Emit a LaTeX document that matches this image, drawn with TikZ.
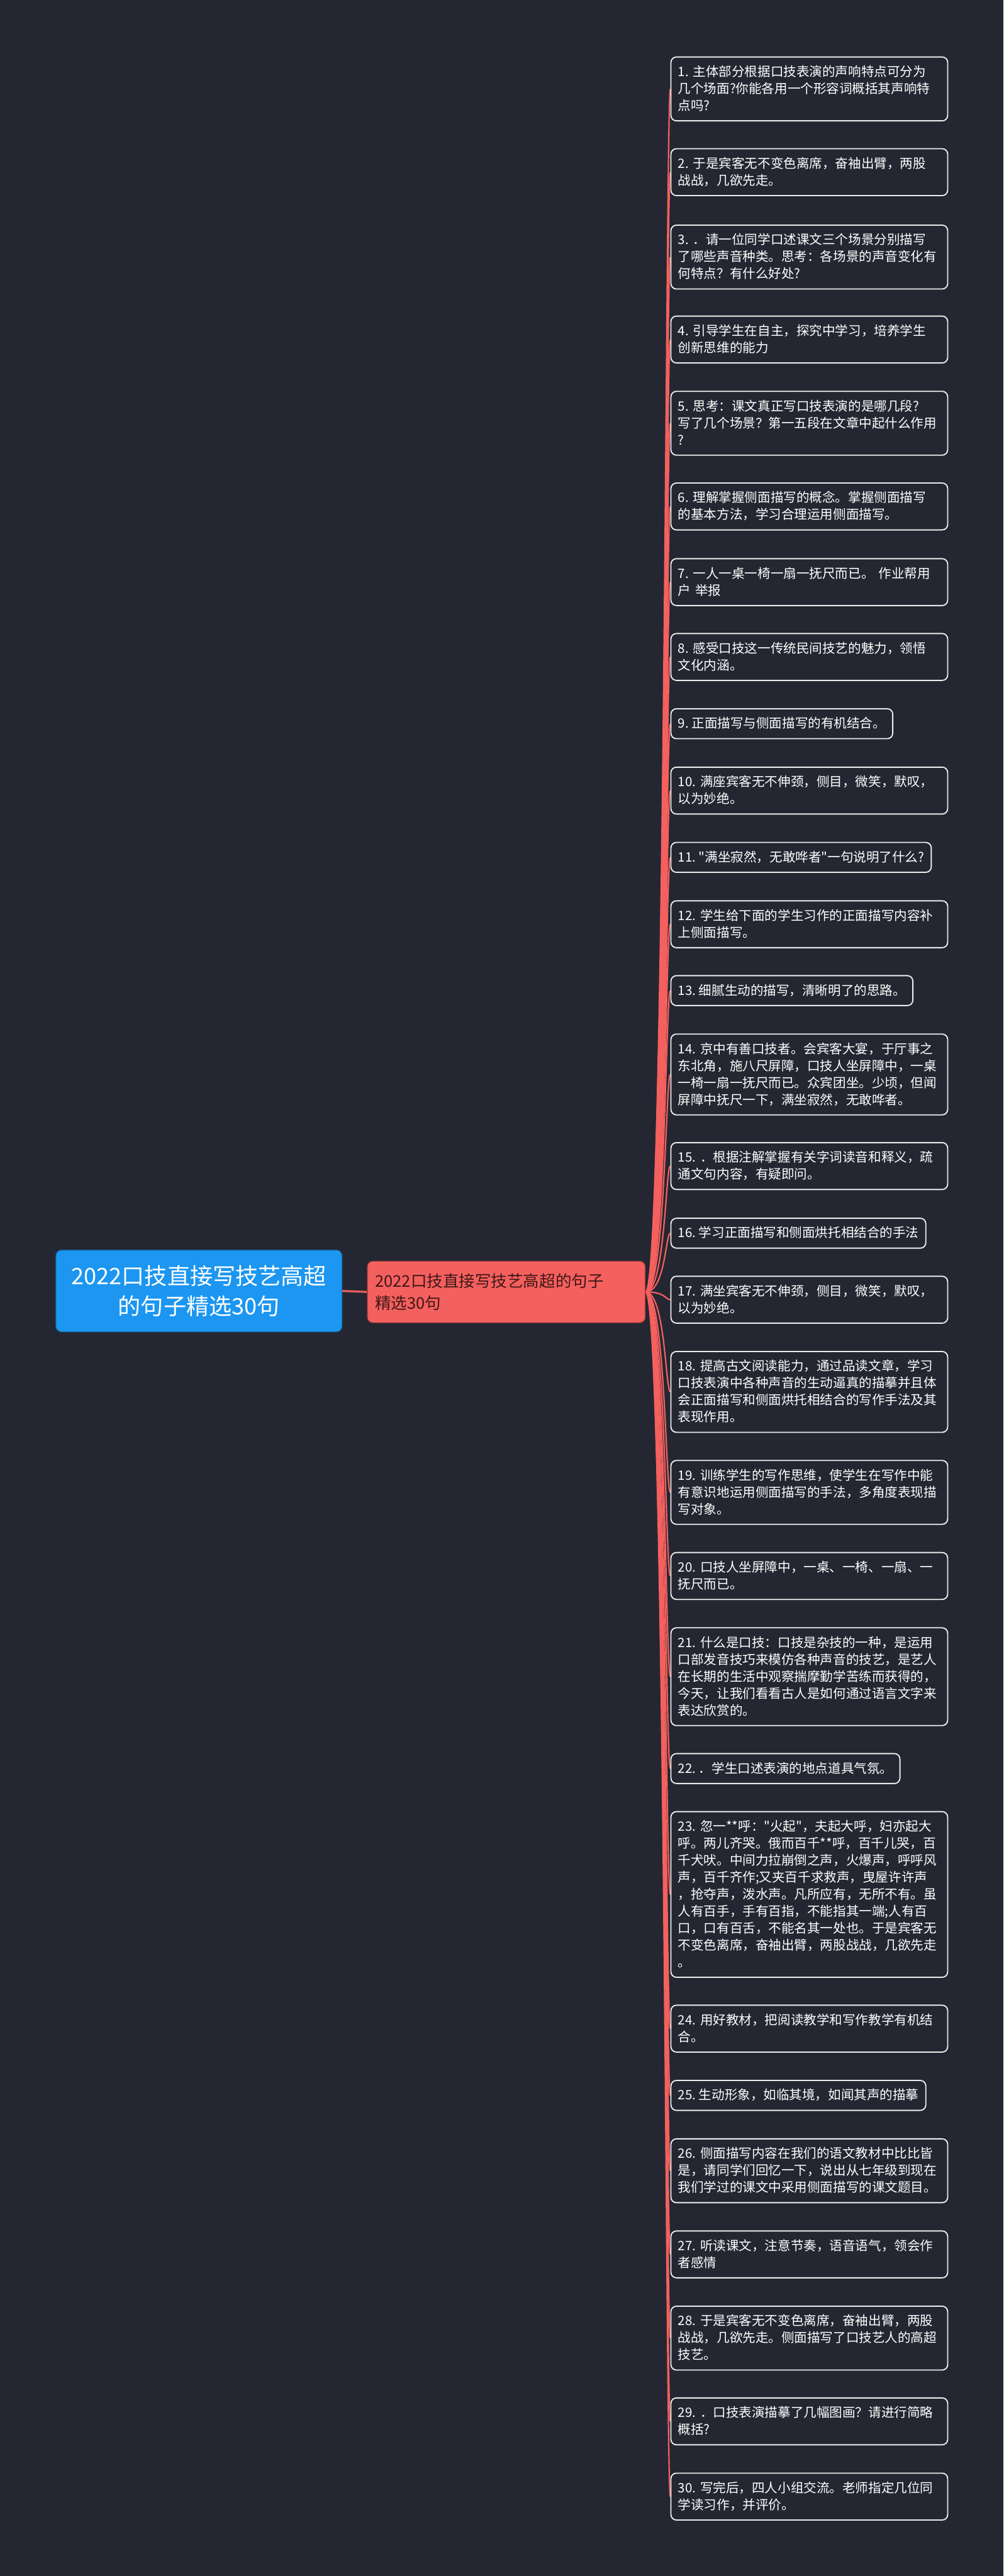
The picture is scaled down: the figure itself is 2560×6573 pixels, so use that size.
\documentclass[tikz,border=0pt]{standalone}
\usepackage{fontspec}
\newfontfamily\cjk{Noto Sans CJK SC}
\definecolor{bgc}{RGB}{36,39,50}
\definecolor{rootc}{RGB}{28,150,240}
\definecolor{midc}{RGB}{244,96,94}
\definecolor{midtxt}{RGB}{62,24,24}
\definecolor{leafline}{RGB}{236,236,236}
\pgfdeclarelayer{back}
\pgfdeclarelayer{conn}
\pgfsetlayers{back,conn,main}
\newcommand\st{\rule[-10.3pt]{0pt}{43.3pt}}
\begin{document}
\begin{tikzpicture}[x=1pt,y=-1pt,
  leafbox/.style={draw=leafline, line width=3pt, rounded corners=14pt, fill=bgc, text=white,
    anchor=north west, inner xsep=18pt, inner ysep=16.5pt,
    font=\cjk\fontsize{33}{43.3}\selectfont, align=left},
  leafwide/.style={leafbox, text width=670pt},
  connline/.style={draw=midc, line width=3.5pt},
]
\useasboundingbox (0,0) rectangle (2560,6573);
\begin{pgfonlayer}{back}
\fill[bgc] (0,0) rectangle (2560,6573);
\end{pgfonlayer}

\node[fill=rootc, draw=rootc!80!black, line width=2pt, rounded corners=14pt,
  minimum width=729pt, minimum height=208pt, inner sep=0pt, align=center, text=white,
  font=\cjk\fontsize{58}{76}\selectfont] (root) at (507.5,3294)
  {2022口技直接写技艺高超\\的句子精选30句};

\node[fill=midc, draw=midc!60!black, line width=2pt, rounded corners=14pt,
  minimum height=157pt, text width=669pt, inner xsep=20pt, inner ysep=0pt, align=left,
  text=midtxt, font=\cjk\fontsize{41}{57}\selectfont] (mid) at (1291.5,3296.5)
  {2022口技直接写技艺高超的句子\\精选30句};

\node[leafwide] (l1) at (1710,144) {\st 1.~主体部分根据口技表演的声响特点可分为\\几个场面?你能各用一个形容词概括其声响特\\点吗?\st};
\node[leafwide] (l2) at (1710,378) {\st 2.~于是宾客无不变色离席，奋袖出臂，两股\\战战，几欲先走。\st};
\node[leafwide] (l3) at (1710,573) {\st 3.~．请一位同学口述课文三个场景分别描写\\了哪些声音种类。思考：各场景的声音变化有\\何特点？有什么好处?\st};
\node[leafwide] (l4) at (1710,805) {\st 4.~引导学生在自主，探究中学习，培养学生\\创新思维的能力\st};
\node[leafwide] (l5) at (1710,997) {\st 5.~思考：课文真正写口技表演的是哪几段?\\写了几个场景？第一五段在文章中起什么作用\\?\st};
\node[leafwide] (l6) at (1710,1231) {\st 6.~理解掌握侧面描写的概念。掌握侧面描写\\的基本方法，学习合理运用侧面描写。\st};
\node[leafwide] (l7) at (1710,1424) {\st 7.~一人一桌一椅一扇一抚尺而已。~作业帮用\\户~举报\st};
\node[leafwide] (l8) at (1710,1615) {\st 8.~感受口技这一传统民间技艺的魅力，领悟\\文化内涵。\st};
\node[leafbox] (l9) at (1710,1807) {\st 9.~正面描写与侧面描写的有机结合。\st};
\node[leafwide] (l10) at (1710,1956) {\st 10.~满座宾客无不伸颈，侧目，微笑，默叹，\\以为妙绝。\st};
\node[leafbox] (l11) at (1710,2148) {\st 11.~"满坐寂然，无敢哗者"一句说明了什么?\st};
\node[leafwide] (l12) at (1710,2297) {\st 12.~学生给下面的学生习作的正面描写内容补\\上侧面描写。\st};
\node[leafbox] (l13) at (1710,2488) {\st 13.~细腻生动的描写，清晰明了的思路。\st};
\node[leafwide] (l14) at (1710,2637) {\st 14.~京中有善口技者。会宾客大宴，于厅事之\\东北角，施八尺屏障，口技人坐屏障中，一桌\\一椅一扇一抚尺而已。众宾团坐。少顷，但闻\\屏障中抚尺一下，满坐寂然，无敢哗者。\st};
\node[leafwide] (l15) at (1710,2914) {\st 15.~．根据注解掌握有关字词读音和释义，疏\\通文句内容，有疑即问。\st};
\node[leafbox] (l16) at (1710,3107) {\st 16.~学习正面描写和侧面烘托相结合的手法\st};
\node[leafwide] (l17) at (1710,3255) {\st 17.~满坐宾客无不伸颈，侧目，微笑，默叹，\\以为妙绝。\st};
\node[leafwide] (l18) at (1710,3447) {\st 18.~提高古文阅读能力，通过品读文章，学习\\口技表演中各种声音的生动逼真的描摹并且体\\会正面描写和侧面烘托相结合的写作手法及其\\表现作用。\st};
\node[leafwide] (l19) at (1710,3725) {\st 19.~训练学生的写作思维，使学生在写作中能\\有意识地运用侧面描写的手法，多角度表现描\\写对象。\st};
\node[leafwide] (l20) at (1710,3960) {\st 20.~口技人坐屏障中，一桌、一椅、一扇、一\\抚尺而已。\st};
\node[leafwide] (l21) at (1710,4152) {\st 21.~什么是口技：口技是杂技的一种，是运用\\口部发音技巧来模仿各种声音的技艺，是艺人\\在长期的生活中观察揣摩勤学苦练而获得的，\\今天，让我们看看古人是如何通过语言文字来\\表达欣赏的。\st};
\node[leafbox] (l22) at (1710,4473) {\st 22.~．学生口述表演的地点道具气氛。\st};
\node[leafwide] (l23) at (1710,4621) {\st 23.~忽一**呼："火起"，夫起大呼，妇亦起大\\呼。两儿齐哭。俄而百千**呼，百千儿哭，百\\千犬吠。中间力拉崩倒之声，火爆声，呼呼风\\声，百千齐作;又夹百千求救声，曳屋许许声\\，抢夺声，泼水声。凡所应有，无所不有。虽\\人有百手，手有百指，不能指其一端;人有百\\口，口有百舌，不能名其一处也。于是宾客无\\不变色离席，奋袖出臂，两股战战，几欲先走\\。\st};
\node[leafwide] (l24) at (1710,5115) {\st 24.~用好教材，把阅读教学和写作教学有机结\\合。\st};
\node[leafbox] (l25) at (1710,5307) {\st 25.~生动形象，如临其境，如闻其声的描摹\st};
\node[leafwide] (l26) at (1710,5456) {\st 26.~侧面描写内容在我们的语文教材中比比皆\\是，请同学们回忆一下，说出从七年级到现在\\我们学过的课文中采用侧面描写的课文题目。\st};
\node[leafwide] (l27) at (1710,5691) {\st 27.~听读课文，注意节奏，语音语气，领会作\\者感情\st};
\node[leafwide] (l28) at (1710,5883) {\st 28.~于是宾客无不变色离席，奋袖出臂，两股\\战战，几欲先走。侧面描写了口技艺人的高超\\技艺。\st};
\node[leafwide] (l29) at (1710,6117) {\st 29.~．口技表演描摹了几幅图画？请进行简略\\概括?\st};
\node[leafwide] (l30) at (1710,6309) {\st 30.~写完后，四人小组交流。老师指定几位同\\学读习作，并评价。\st};

\begin{pgfonlayer}{conn}
\draw[midc, line width=5pt] (root.east) -- (mid.west);
\foreach \i in {1,...,30}
  \draw[connline] (mid.east) .. controls +(50,0) and +(-12,0) .. (l\i.west);
\end{pgfonlayer}
\end{tikzpicture}
\end{document}
